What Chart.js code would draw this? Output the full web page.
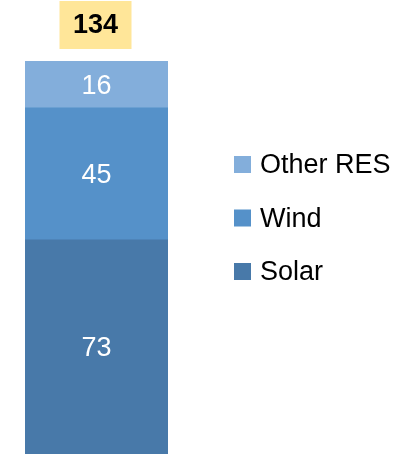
<!DOCTYPE html>
<html>
<head>
<meta charset="utf-8">
<script src="https://cdn.jsdelivr.net/npm/chart.js@4.4.1/dist/chart.umd.min.js"></script>
<style>
  html, body { margin: 0; padding: 0; background: #fff; }
  #wrap { width: 419px; height: 454px; position: relative; }
</style>
</head>
<body>
<div id="wrap"><canvas id="chart"></canvas></div>
<script>
const categories = ["Total"];
const solar = [73];
const wind = [45];
const otherRes = [16];
const totals = [134];

const FONT = "'Liberation Sans', Arial, sans-serif";

// white value labels in the middle of each segment, plus the total on top
const labelPlugin = {
  id: "labels",
  afterDatasetsDraw(chart) {
    const ctx = chart.ctx;
    ctx.save();
    ctx.textAlign = "center";
    ctx.textBaseline = "middle";
    chart.data.datasets.forEach((ds, i) => {
      const meta = chart.getDatasetMeta(i);
      meta.data.forEach((bar, j) => {
        const mid = (bar.y + bar.base) / 2;
        ctx.fillStyle = "#ffffff";
        ctx.font = "27px " + FONT;
        ctx.fillText(ds.data[j], bar.x, mid + 2);
      });
    });
    const top = chart.getDatasetMeta(chart.data.datasets.length - 1).data[0];
    const y = chart.scales.y.getPixelForValue(totals[0]);
    ctx.fillStyle = "#ffe699";
    ctx.fillRect(top.x - 37, y - 60, 72, 48);
    ctx.fillStyle = "#000000";
    ctx.font = "bold 27px " + FONT;
    ctx.fillText(totals[0], top.x - 1, y - 35);
    ctx.restore();
  }
};

// legend on the right, listed top segment first
const legendPlugin = {
  id: "sideLegend",
  afterDraw(chart) {
    const ctx = chart.ctx;
    ctx.save();
    ctx.textBaseline = "middle";
    ctx.font = "27px " + FONT;
    const items = chart.data.datasets.slice().reverse();
    items.forEach((ds, i) => {
      const cy = 165 + i * 53.5;
      ctx.fillStyle = ds.backgroundColor;
      ctx.fillRect(234, cy - 9, 17, 17);
      ctx.fillStyle = "#000000";
      ctx.fillText(ds.label, 260, cy + 1);
    });
    ctx.restore();
  }
};

new Chart(document.getElementById("chart"), {
  type: "bar",
  data: {
    labels: categories,
    datasets: [
      { label: "Solar", data: solar, backgroundColor: "#4879a9" },
      { label: "Wind", data: wind, backgroundColor: "#5591c9" },
      { label: "Other RES", data: otherRes, backgroundColor: "#83aedb" }
    ]
  },
  options: {
    responsive: true,
    maintainAspectRatio: false,
    animation: false,
    layout: { padding: { left: 25, right: 251, top: 61, bottom: 0 } },
    datasets: { bar: { barPercentage: 1, categoryPercentage: 1, borderWidth: 0 } },
    scales: {
      x: { stacked: true, display: false },
      y: { stacked: true, display: false, min: 0, max: 134 }
    },
    plugins: { legend: { display: false }, tooltip: { enabled: false } }
  },
  plugins: [labelPlugin, legendPlugin]
});
</script>
</body>
</html>
